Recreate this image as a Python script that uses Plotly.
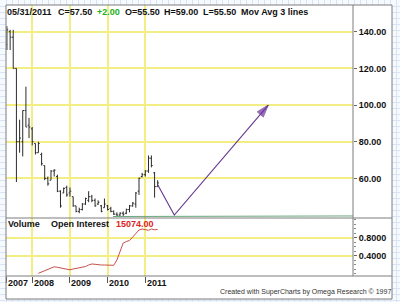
import plotly.graph_objects as go
import pandas as pd

W, H = 400, 302

# ---------------- data ----------------
months = [d.strftime("%Y-%m-%d") for d in pd.date_range("2007-05-01", "2011-05-01", freq="MS")]
opens  = [133, 140, 137, 120, 80, 80, 97, 89, 87, 79, 74, 73, 67, 60, 59, 64, 61, 53, 52, 55,
          52, 50, 45, 42, 43, 46, 48, 50, 48, 46, 45, 44, 45, 43.5, 42, 40.5, 40, 41, 41, 43,
          45, 46, 53, 61, 62, 64, 71, 63, 55.5]
highs  = [143, 141, 141, 120, 92, 97, 110, 93, 88, 79, 80, 74, 67, 61, 64.5, 65, 62, 53.5, 55, 56,
          55, 50, 45, 44, 46.5, 49.5, 53, 51, 49, 48, 45.5, 49, 45.5, 44.5, 42.5, 41.5, 41.5, 42, 43.5, 45.5,
          47, 52.5, 60.5, 63, 64.5, 72.5, 72.5, 63.5, 59]
lows   = [130, 130, 120, 58, 74, 72, 88, 82, 78, 73, 74, 67, 59, 56, 59, 61, 52.5, 44, 52, 50,
          50, 44.5, 41.5, 41, 42.5, 45.5, 47, 47, 44.5, 45.5, 41.5, 44, 42.5, 41.5, 40, 39, 39.5, 39.5, 40.5, 41.5,
          44.5, 44, 51, 60.5, 61, 63, 66, 49.5, 55.5]
closes = [141, 137, 120, 80, 82, 97, 88, 88, 80, 74, 79, 68, 60, 57, 64, 64.5, 53, 45, 54.5, 51,
          53, 45, 42, 43, 46, 49, 50, 48, 45, 47, 42, 46, 43, 42, 40.5, 40, 41, 40.5, 43, 45,
          46.5, 52, 60, 62, 64, 71, 67, 55.5, 57.5]

oi_dates = [d.strftime("%Y-%m-%d") for d in pd.date_range("2008-03-01", "2011-05-01", freq="MS")]
oi_vals = [500, 930, 1430, 1930, 2420, 2660, 2490, 2320, 2160, 1930,
           1660, 1930, 2160, 2320, 2490, 2760, 3250, 3590, 3490, 3320,
           3250, 3250, 3250, 3250, 3150, 4910, 7900, 10550, 11050, 11380,
           12540, 13540, 14870, 15200, 15030, 14770, 15200, 14930, 15074]

ma_dates = ["2010-02-22", "2013-04-30", "2013-04-30", "2016-07-06"]
ma_vals = [39.2, 39.2, 39.5, 39.5]

proj_dates = ["2011-05-01", "2011-10-09", "2014-04-07"]
proj_vals = [56.5, 40.0, 100.0]

price_ticks = [60, 80, 100, 120, 140]
price_labels = ["60.00", "80.00", "100.00", "120.00", "140.00"]
vol_ticks = [0.4, 0.8]
vol_labels = ["0.4000", "0.8000"]
year_ticks = ["2008-01-01", "2009-01-01", "2010-01-01", "2011-01-01"]
year_labels = ["2008", "2009", "2010", "2011"]

x_range = ["2007-04-22", "2016-07-06"]

YELLOW = "#f3ee84"
GW = 1.5
FONT = "Liberation Sans, Arial, sans-serif"

def px(x):
    return x / W

def py(y):
    return 1 - y / H

fig = go.Figure()
# background "graph paper" subplot
fig.add_trace(go.Scatter(x=[200], y=[150], xaxis="x", yaxis="y", mode="markers",
                         marker=dict(opacity=0), hoverinfo="skip", showlegend=False))

fig.add_trace(go.Ohlc(x=months, open=opens, high=highs, low=lows, close=closes,
                      xaxis="x2", yaxis="y2", tickwidth=0.45,
                      increasing=dict(line=dict(color="#2b2b2b", width=1)),
                      decreasing=dict(line=dict(color="#2b2b2b", width=1)),
                      showlegend=False, hoverinfo="skip"))

fig.add_trace(go.Scatter(x=ma_dates, y=ma_vals, xaxis="x2", yaxis="y2", mode="lines",
                         line=dict(color="#6aa87c", width=1), showlegend=False, hoverinfo="skip"))

fig.add_trace(go.Scatter(x=proj_dates, y=proj_vals, xaxis="x2", yaxis="y2", mode="lines+markers",
                         line=dict(color="#64388f", width=1.1),
                         marker=dict(symbol=["circle", "circle", "arrow"], size=[0, 0, 13],
                                     angleref="previous", color="#7030a0"),
                         showlegend=False, hoverinfo="skip"))

fig.add_trace(go.Scatter(x=oi_dates, y=oi_vals, xaxis="x4", yaxis="y4", mode="lines",
                         line=dict(color="#c8504a", width=1), showlegend=False, hoverinfo="skip"))

dom_x = [px(6), px(353)]
dom_vol = [py(276), py(218)]
fig.update_layout(
    width=W, height=H, margin=dict(l=0, r=0, t=0, b=0),
    paper_bgcolor="#f6f9fd", plot_bgcolor="rgba(0,0,0,0)", showlegend=False,
    font=dict(family=FONT, size=9, color="#111"),
    xaxis=dict(domain=[0, 1], range=[0, W], anchor="y", showgrid=True, dtick=6, tick0=0,
               gridcolor="#d9e4f4", gridwidth=1, showticklabels=False, zeroline=False, ticks=""),
    yaxis=dict(domain=[0, 1], range=[H, 0], anchor="x", showgrid=True, dtick=6, tick0=0,
               gridcolor="#d9e4f4", gridwidth=1, showticklabels=False, zeroline=False, ticks=""),
    xaxis2=dict(domain=dom_x, anchor="y2", type="date", range=x_range, tickvals=year_ticks,
                showgrid=True, gridcolor=YELLOW, gridwidth=GW, showticklabels=False, ticks="",
                zeroline=False, showline=False, rangeslider=dict(visible=False)),
    yaxis2=dict(domain=[py(218), py(5)], anchor="x2", side="right", range=[38.38, 154.56],
                tickvals=price_ticks, ticktext=price_labels, ticks="outside", ticklen=3,
                tickcolor="#666", showgrid=True, gridcolor=YELLOW, gridwidth=GW, zeroline=False,
                showline=False, tickfont=dict(family=FONT, size=9, color="#111", weight="bold")),
    xaxis3=dict(domain=dom_x, anchor="y3", type="date", range=x_range,
                tickvals=["2007-04-25"] + year_ticks, showgrid=True, gridcolor=YELLOW,
                gridwidth=GW, showticklabels=False, ticks="outside", ticklen=6, tickcolor="#555",
                zeroline=False, showline=False),
    yaxis3=dict(domain=dom_vol, anchor="x3", side="right", range=[-0.0556, 1.2333],
                tickvals=vol_ticks, ticktext=vol_labels, ticks="outside", ticklen=3,
                tickcolor="#666", showgrid=True, gridcolor=YELLOW, gridwidth=GW, zeroline=False,
                showline=False,
                minor=dict(dtick=0.1, ticks="outside", ticklen=2, tickcolor="#888", showgrid=False),
                tickfont=dict(family=FONT, size=9, color="#111", weight="bold")),
    xaxis4=dict(domain=dom_x, anchor="y4", type="date", range=x_range, visible=False,
                showgrid=False),
    yaxis4=dict(domain=dom_vol, anchor="x4", range=[-396, 18849], visible=False, showgrid=False),
)

frame = "#7c7c7c"
shapes = [
    dict(type="rect", xref="x", yref="y", x0=6, x1=392, y0=5, y1=299, fillcolor="white",
         line=dict(width=0), layer="between"),
    dict(type="rect", xref="x", yref="y", x0=6, x1=392, y0=5, y1=299,
         line=dict(color=frame, width=1), layer="above"),
    dict(type="line", xref="x", yref="y", x0=353, x1=353, y0=5, y1=276,
         line=dict(color=frame, width=1), layer="above"),
    dict(type="line", xref="x", yref="y", x0=6, x1=392, y0=218, y1=218,
         line=dict(color=frame, width=1), layer="above"),
    dict(type="line", xref="x", yref="y", x0=6, x1=392, y0=276, y1=276,
         line=dict(color=frame, width=1), layer="above"),
]
fig.update_layout(shapes=shapes)

ann = []
def txt(x, y, s, color="#111", size=9, bold=True, xanchor="left", xref="paper"):
    ann.append(dict(x=x, y=py(y), xref=xref, yref="paper", text=("<b>%s</b>" % s) if bold else s,
                    showarrow=False, xanchor=xanchor, yanchor="middle",
                    font=dict(family=FONT, size=size, color=color), borderpad=0))

title_items = [(5.5, "05/31/2011", "#111"), (56.5, "C=57.50", "#111"), (96, "+2.00", "#22b022"),
               (123.5, "O=55.50", "#111"), (162.5, "H=59.00", "#111"), (202, "L=55.50", "#111"),
               (239.5, "Mov Avg 3 lines", "#111")]
for x, s, c in title_items:
    txt(px(x), 11.7, s, c)

txt(px(6.5), 224, "Volume")
txt(px(49.5), 224, "Open Interest")
txt(px(115), 224, "15074.00", "#dd2222")

txt(px(6.5), 282.7, "2007")
for d, s in zip(year_ticks, year_labels):
    ann.append(dict(x=d, y=py(282.7), xref="x3", yref="paper", text="<b>%s</b>" % s,
                    showarrow=False, xanchor="left", yanchor="middle", xshift=0.5,
                    font=dict(family=FONT, size=9, color="#111"), borderpad=0))

txt(px(392), 292, "Created with SuperCharts by Omega Research © 1997", "#333", size=7,
    bold=False, xanchor="right")

fig.update_layout(annotations=ann)
fig.write_html("out.html")
